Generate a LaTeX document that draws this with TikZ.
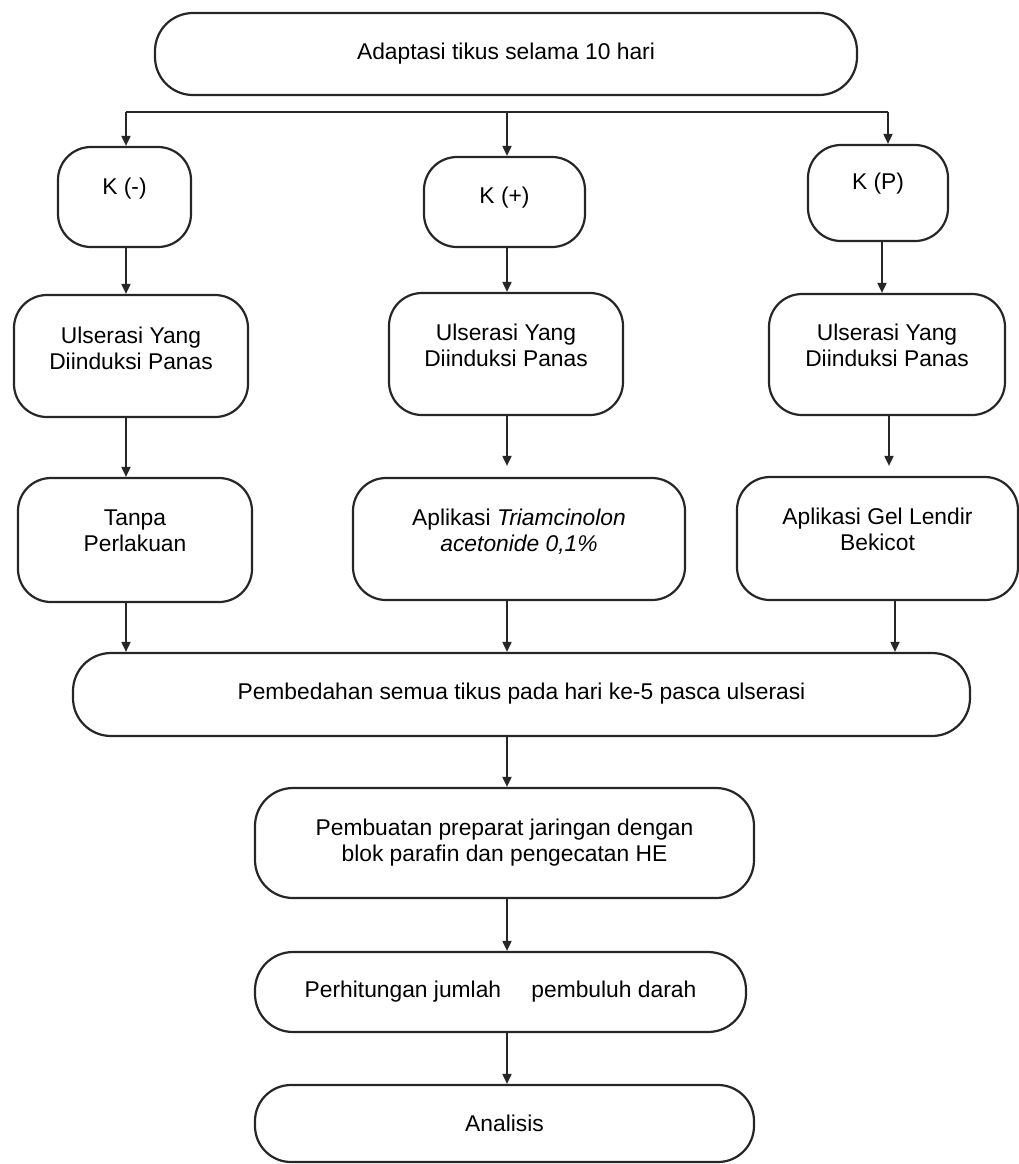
\documentclass[tikz,border=0pt]{standalone}
\usepackage{fontspec}
\setmainfont{Liberation Sans}
\usepackage{tikz}
\usetikzlibrary{arrows.meta}
\definecolor{flowLine}{HTML}{262626}
\newcommand{\liftText}[2]{\raisebox{#1}[\height][\depth]{\begin{tabular}{@{}c@{}}#2\end{tabular}}}

\begin{document}
\begin{tikzpicture}[x=0.5pt, y=-0.5pt,
    every node/.style={font=\fontsize{11.4}{13}\selectfont},
    stage/.style={draw=flowLine, line width=1.1pt, rounded corners=16.5pt, inner sep=0pt},
    pill/.style={stage, rounded corners=19pt},
    flow/.style={draw=flowLine, line width=0.9pt, -{Triangle[length=5pt,width=4.5pt]}}]
    \useasboundingbox (0,0) rectangle (1019,1164);
    % start
    \node[pill, minimum width=351pt, minimum height=41pt] (adapt) at (506,54) {\liftText{0pt}{Adaptasi tikus selama 10 hari}};
    % groups
    \node[stage, minimum width=66.5pt, minimum height=50pt] (kneg) at (124.5,197) {\liftText{4pt}{K (-)}};
    \node[stage, minimum width=80.5pt, minimum height=45pt] (kpos) at (504.5,202) {\liftText{2pt}{K (+)}};
    \node[stage, minimum width=70pt, minimum height=48pt] (kp) at (878,193) {\liftText{4.5pt}{K (P)}};
    % ulceration
    \node[stage, minimum width=117pt, minimum height=61pt] (ulsA) at (131,356) {\liftText{2.5pt}{Ulserasi Yang\\Diinduksi Panas}};
    \node[stage, minimum width=117pt, minimum height=61pt] (ulsB) at (506,354) {\liftText{3pt}{Ulserasi Yang\\Diinduksi Panas}};
    \node[stage, minimum width=118pt, minimum height=60.5pt] (ulsC) at (887,354.5) {\liftText{3pt}{Ulserasi Yang\\Diinduksi Panas}};
    % treatment
    \node[stage, minimum width=117pt, minimum height=62pt] (tanpa) at (135,540) {\liftText{3.5pt}{Tanpa\\Perlakuan}};
    \node[stage, minimum width=166pt, minimum height=61pt] (triam) at (519,539) {\liftText{3pt}{Aplikasi \textit{Triamcinolon}\\\textit{acetonide 0,1\%}}};
    \node[stage, minimum width=140.5pt, minimum height=61.5pt] (gel) at (877.5,538.5) {\liftText{3pt}{Aplikasi Gel Lendir\\Bekicot}};
    % after treatment
    \node[pill, minimum width=448.5pt, minimum height=41.5pt] (bedah) at (521.5,694.5) {\liftText{0pt}{Pembedahan semua tikus pada hari ke-5 pasca ulserasi}};
    \node[pill, minimum width=249.5pt, minimum height=55pt] (buat) at (504.5,843) {\liftText{0pt}{Pembuatan preparat jaringan dengan\\blok parafin dan pengecatan HE}};
    \node[pill, minimum width=245.5pt, minimum height=40pt] (hitung) at (500.5,992) {\liftText{0pt}{Perhitungan jumlah\hspace{12pt} pembuluh darah}};
    \node[pill, rounded corners=18pt, minimum width=249.5pt, minimum height=38.5pt] (anal) at (504.5,1123.5) {\liftText{-1.5pt}{Analisis}};

    % branching
    \coordinate (brA) at (126,112);
    \coordinate (brB) at (507,112);
    \coordinate (brC) at (888,112);
    \draw[flowLine, line width=0.9pt] (brA) -- (brC);
    \draw[flow] (brA) -- (brA |- kneg.north);
    \draw[flow] (brB) -- (brB |- kpos.north);
    \draw[flow] (brC) -- (brC |- kp.north);
    % left column
    \draw[flow] (brA |- kneg.south) -- (brA |- ulsA.north);
    \draw[flow] (brA |- ulsA.south) -- (brA |- tanpa.north);
    \draw[flow] (brA |- tanpa.south) -- (brA |- bedah.north);
    % middle column
    \draw[flow] (brB |- kpos.south) -- (brB |- ulsB.north);
    \draw[flow, shorten >=5.5pt] (brB |- ulsB.south) -- (brB |- triam.north);
    \draw[flow] (brB |- triam.south) -- (brB |- bedah.north);
    % right column
    \draw[flow] ([xshift=2pt]kp.south) -- ([xshift=2pt]kp.south |- ulsC.north);
    \draw[flow, shorten >=5pt] ([xshift=1pt]ulsC.south) -- ([xshift=1pt]ulsC.south |- gel.north);
    \draw[flow] ([xshift=8.75pt]gel.south) -- ([xshift=8.75pt]gel.south |- bedah.north);
    % lower chain
    \foreach \a/\b in {bedah/buat, buat/hitung, hitung/anal}
        \draw[flow] (brB |- \a.south) -- (brB |- \b.north);
\end{tikzpicture}
\end{document}
